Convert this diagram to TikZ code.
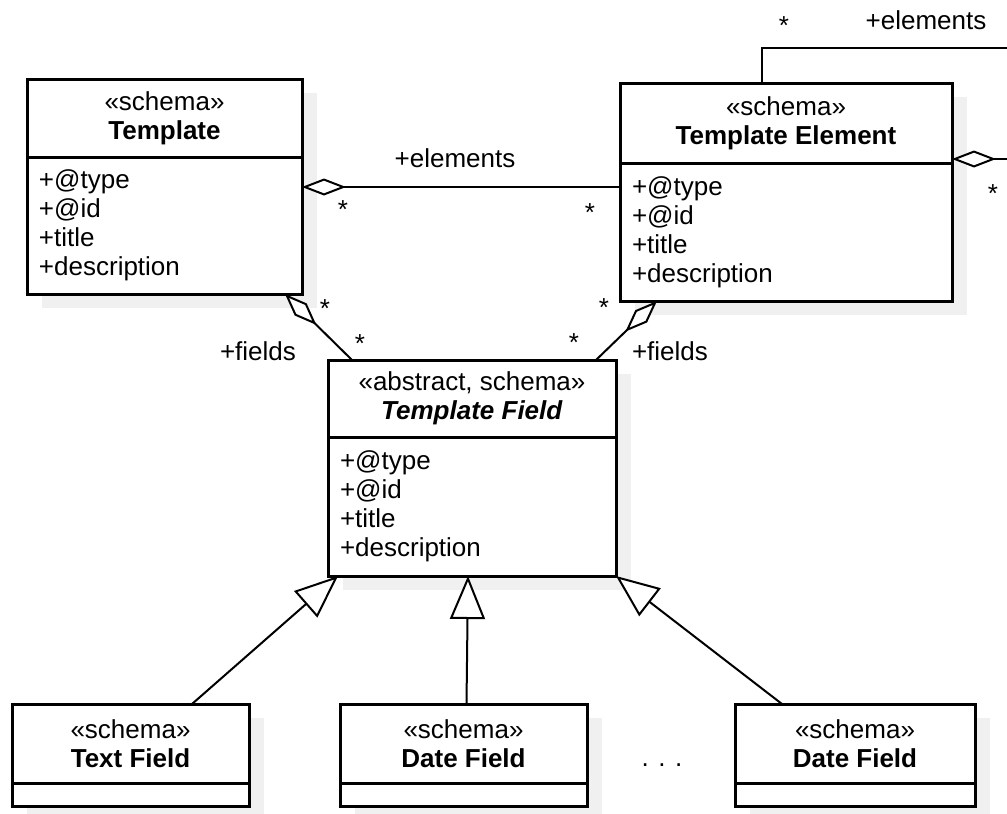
\documentclass[tikz,border=0pt]{standalone}
\usepackage{fontspec}
\setmainfont{Liberation Sans}
\usetikzlibrary{positioning,arrows.meta,shadows}

\begin{document}
\begin{tikzpicture}[x=0.5pt, y=-0.5pt,
	every node/.style={font=\fontsize{13pt}{14.5pt}\selectfont},
	cls/.style={rectangle, draw=black, line width=1.5pt, fill=white, outer sep=0pt, align=center,
		drop shadow={shadow xshift=7.5pt, shadow yshift=-7pt, fill=black!6, opacity=1}},
	clsbody/.style={cls, align=left, inner xsep=6pt, inner ysep=0pt},
	lbl/.style={inner sep=1pt},
	mult/.style={lbl, yshift=-2.5pt},
	aggr/.style={draw=black, line width=1pt, -{Diamond[length=22pt, width=8.5pt, fill=white]}},
	gen/.style={draw=black, line width=1pt, -{Triangle[length=21.5pt, width=17.5pt, fill=white]}}]
	\useasboundingbox (0,0) rectangle (1007,814);
	
	% classes
	\node[cls, minimum width=137.5pt, minimum height=39pt] (tmplH) at (164.5,118){«schema»\\\textbf{Template}};
	\node[clsbody, below=0pt of tmplH, text width=125.5pt, minimum height=68.5pt] (tmplB){+@type\\+@id\\+title\\+description};
	
	\node[cls, minimum width=166pt, minimum height=40pt] (elemH) at (786,123){«schema»\\\textbf{Template Element}};
	\node[clsbody, below=0pt of elemH, text width=154pt, minimum height=69pt] (elemB){+@type\\+@id\\+title\\+description};
	
	\node[cls, minimum width=144pt, minimum height=38.5pt] (fieldH) at (472,398.5){«abstract, schema»\\\textbf{\itshape Template Field}};
	\node[clsbody, below=0pt of fieldH, text width=132pt, minimum height=69.5pt] (fieldB){+@type\\+@id\\+title\\+description};
	
	\node[cls, minimum width=118.5pt, minimum height=39.5pt] (textH) at (130.5,743.5){«schema»\\\textbf{Text Field}};
	\node[clsbody, below=0pt of textH, text width=106.5pt, minimum height=11.5pt] (textB){};
	
	\node[cls, minimum width=123.5pt, minimum height=39.5pt] (dateH) at (463.5,743.5){«schema»\\\textbf{Date Field}};
	\node[clsbody, below=0pt of dateH, text width=111.5pt, minimum height=11.5pt] (dateB){};
	
	\node[cls, minimum width=120pt, minimum height=39.5pt] (dateTwoH) at (855,743.5){«schema»\\\textbf{Date Field}};
	\node[clsbody, below=0pt of dateTwoH, text width=108pt, minimum height=11.5pt] (dateTwoB){};
	
	\node[lbl] (dots) at (662,765){. . .};
	
	% associations
	\coordinate (loopR) at (1030,48);
	\draw[aggr] ([xshift=71pt]elemH.north west) |- (loopR) |- ([yshift=2pt]elemH.south east);
	\draw[aggr] (elemB.west |- 0,187) -- (tmplB.east |- 0,187);
	\draw[aggr] ([xshift=12pt]fieldH.north west) -- ([xshift=-8.5pt]tmplB.south east);
	\draw[aggr] ([xshift=-10pt]fieldH.north east) -- ([xshift=18.5pt]elemB.south west);
	
	\node[mult] (loopM1) at (784,21){*};
	\node[lbl] (loopRole) at (926,20){+elements};
	\node[mult] (loopM2) at (993,189){*};
	
	\node[lbl] (elemRole) at (455,158){+elements};
	\node[mult] (elemM1) at (343,205){*};
	\node[mult] (elemM2) at (590,208){*};
	
	\node[mult] (tfM1) at (325,304){*};
	\node[mult] (tfM2) at (360,339){*};
	\node[lbl] (tfRole) at (258,351){+fields};
	
	\node[mult] (efM1) at (604,303){*};
	\node[mult] (efM2) at (574,338){*};
	\node[lbl] (efRole) at (670,351){+fields};
	
	% generalizations
	\draw[gen] ([xshift=90pt]textH.north west) -- ([xshift=5pt]fieldB.south west);
	\draw[gen] ([xshift=1.5pt]dateH.north) -- ([xshift=-2pt]fieldB.south);
	\draw[gen] ([xshift=23.5pt]dateTwoH.north west) -- (fieldB.south east);
\end{tikzpicture}
\end{document}
